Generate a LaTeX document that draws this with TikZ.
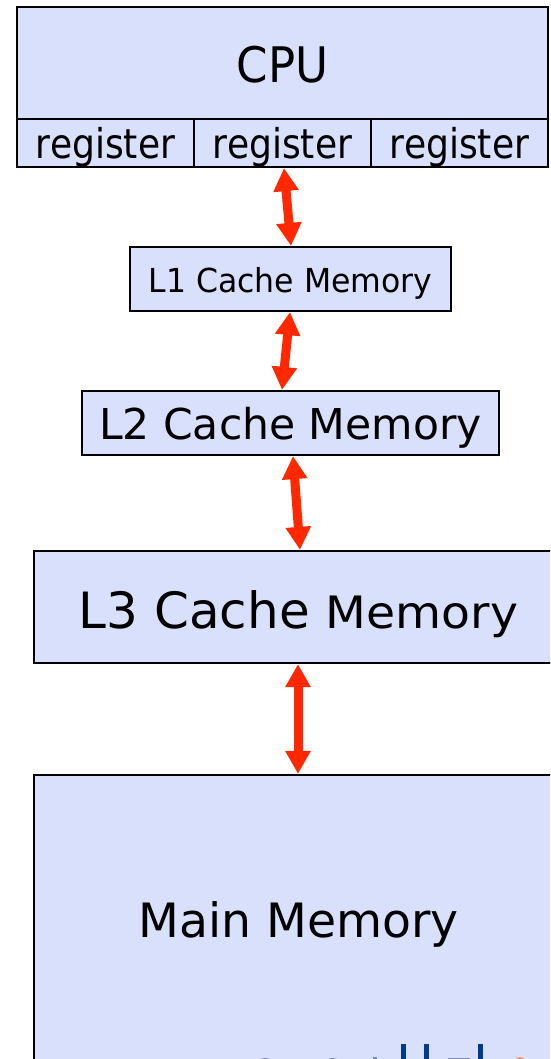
\documentclass[tikz,border=0pt]{standalone}
\usepackage{fontspec}
\setmainfont{DejaVu Sans}
\newfontfamily\cpufont{DejaVu Sans}[FakeStretch=0.92]
\newfontfamily\regfont{DejaVu Sans}[FakeStretch=0.88]
\newfontfamily\lonefont{DejaVu Sans}[FakeStretch=0.955]
\newfontfamily\memfont{DejaVu Sans}[FakeStretch=1.06]
\usetikzlibrary{arrows.meta}
\definecolor{boxfill}{RGB}{217,224,252}
\definecolor{arrred}{RGB}{255,40,0}
\definecolor{logoblue}{RGB}{0,58,140}
\definecolor{logolight}{RGB}{120,140,190}
\definecolor{logoorange}{RGB}{240,160,110}
\begin{document}
\begin{tikzpicture}[x=1pt,y=-1pt,
  box/.style={draw=black, line width=2.2pt, fill=boxfill, inner sep=0pt, text depth=0pt, align=center},
  link/.style={arrred, line width=9pt, line cap=butt,
    {Triangle[width=24pt,length=23pt]}-{Triangle[width=24pt,length=23pt]}}]
\useasboundingbox (0,0) rectangle (550,1059);
\clip (0,0) rectangle (550,1059);
\fill[white] (0,0) rectangle (550,1059);
% CPU and registers
\node[box, minimum width=531pt, minimum height=112pt, text height=39.4pt,
      font=\cpufont\fontsize{49}{54}\selectfont] (cpu) at (282.5,63) {CPU};
\node[box, minimum width=177pt, minimum height=48pt, text height=30.6pt,
      font=\regfont\fontsize{41}{46}\selectfont] (reg1) at (105.5,143) {register};
\node[box, minimum width=177pt, minimum height=48pt, text height=30.6pt,
      font=\regfont\fontsize{41}{46}\selectfont] (reg2) at (282.5,143) {register};
\node[box, minimum width=177pt, minimum height=48pt, text height=30.6pt,
      font=\regfont\fontsize{41}{46}\selectfont] (reg3) at (459.5,143) {register};
% caches
\node[box, minimum width=321pt, minimum height=64pt, text height=26.6pt,
      font=\lonefont\fontsize{33}{38}\selectfont] (l1) at (290.5,279) {L1 Cache Memory};
\node[box, minimum width=417pt, minimum height=64pt, text height=32.6pt,
      font=\fontsize{42.5}{46}\selectfont] (l2) at (290.5,423) {L2 Cache Memory};
\node[box, minimum width=529pt, minimum height=112pt, text height=42.6pt,
      font=\fontsize{50}{56}\selectfont] (l3) at (298.5,607) {L3 Cache {\memfont\fontsize{44.6}{50}\selectfont Memory}};
\node[box, minimum width=529pt, minimum height=290pt, text height=34.6pt,
      font=\fontsize{47.3}{52}\selectfont] (main) at (298.5,920) {Main Memory};
% connectors
\draw[link] ([xshift=1.5pt]reg2.south) -- ([xshift=0.5pt]l1.north);
\draw[link] ([xshift=-0.5pt]l1.south) -- ([xshift=-8.5pt]l2.north);
\draw[link] ([xshift=2.5pt]l2.south) -- ([xshift=1.5pt]l3.north);
\draw[link] ([xshift=-0.5pt]l3.south) -- ([xshift=-0.5pt]main.north);
% cut-off logo fragments
\fill[logolight] (265,1064) ellipse (8 and 6);
\fill[logolight] (332.5,1064) ellipse (7.5 and 6);
\fill[logolight] (373,1057) rectangle (377,1060);
\fill[logoblue] (401,1044) rectangle (406,1060);
\fill[logoblue] (423.5,1044) rectangle (429,1060);
\fill[logolight] (448,1058) rectangle (470,1060);
\fill[logoblue] (478,1044) rectangle (483,1060);
\fill[logoorange] (520,1064) ellipse (7 and 7);
\end{tikzpicture}
\end{document}
